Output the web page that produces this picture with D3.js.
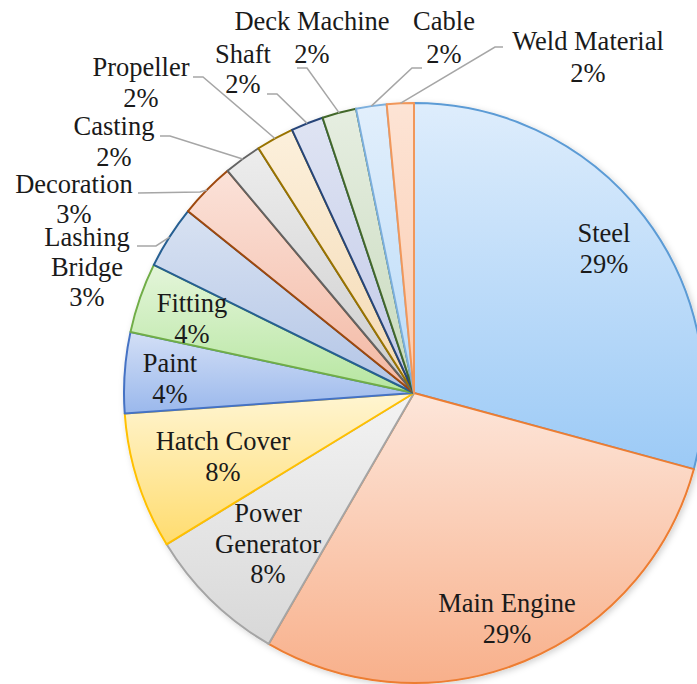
<!DOCTYPE html>
<meta charset="utf-8">
<style>
body { margin: 0; background: #fff; }
.label { font-family: "Liberation Serif", "Times New Roman", serif; font-size: 26.5px; fill: #1a1a1a; }
.leader { fill: none; stroke: #a6a6a6; stroke-width: 1.5; }
</style>
<svg width="697" height="684"></svg>
<script src="https://d3js.org/d3.v7.min.js"></script>
<script>

// slice names, shares and printed percentages
var categories = ["Steel", "Main Engine", "Power Generator", "Hatch Cover", "Paint", "Fitting",
                  "Lashing Bridge", "Decoration", "Casting", "Propeller", "Shaft",
                  "Deck Machine", "Cable", "Weld Material"];
var shares = [29.2, 29.1, 7.9, 7.6, 4.5, 3.9, 3.5, 3.1, 2.1, 2.1, 1.8, 1.9, 1.7, 1.5];
var percentLabels = ["29%", "29%", "8%", "8%", "4%", "4%", "3%", "3%", "2%", "2%", "2%", "2%", "2%", "2%"];

// office-style palette: gradient top, gradient bottom, outline
var fillTop    = ["#deedfc", "#fde6da", "#f3f3f3", "#fff5d2", "#d3dff6", "#e4f5da", "#d8e2f2",
                  "#fbe2d9", "#ededed", "#fcf0dc", "#dfe4f3", "#e6eee1", "#e2effc", "#fde4d5"];
var fillBottom = ["#9ccaf6", "#f8b08b", "#d8d8d8", "#ffdc6e", "#9ab8ec", "#b6e6a0", "#b3c5e6",
                  "#f3b8a3", "#cdcdcd", "#f4d9b2", "#c1c9e8", "#c8dabd", "#badbf8", "#fbcbb0"];
var strokes    = ["#5b9bd5", "#ed7d31", "#a5a5a5", "#ffc000", "#4472c4", "#70ad47", "#255e91",
                  "#9e480e", "#636363", "#997300", "#264478", "#43682b", "#7cafdd", "#f1975a"];

var svg = d3.select("svg");
var cx = 414, cy = 393, radius = 290;

var data = categories.map(function(c, i) {
  return { name: c, share: shares[i], pct: percentLabels[i], i: i };
});

var pie = d3.pie().sort(null).value(function(d) { return d.share; });
var arc = d3.arc().innerRadius(0).outerRadius(radius);
var edge = d3.arc().innerRadius(radius).outerRadius(radius);

var defs = svg.append("defs");
defs.append("filter")
    .attr("id", "shadow")
    .attr("x", "-10%").attr("y", "-10%").attr("width", "120%").attr("height", "120%")
  .append("feDropShadow")
    .attr("dx", 2).attr("dy", 2).attr("stdDeviation", 3)
    .attr("flood-color", "#000").attr("flood-opacity", 0.18);

var grads = defs.selectAll("linearGradient")
  .data(data)
  .enter().append("linearGradient")
    .attr("id", function(d) { return "g" + d.i; })
    .attr("x1", 0).attr("y1", 0).attr("x2", 0).attr("y2", 1);
grads.append("stop").attr("offset", "0%").attr("stop-color", function(d) { return fillTop[d.i]; });
grads.append("stop").attr("offset", "100%").attr("stop-color", function(d) { return fillBottom[d.i]; });

var arcs = pie(data);

var g = svg.append("g")
    .attr("transform", "translate(" + cx + "," + cy + ")");

g.append("g")
    .attr("filter", "url(#shadow)")
  .selectAll("path")
  .data(arcs)
  .enter().append("path")
    .attr("d", arc)
    .attr("fill", function(d) { return "url(#g" + d.data.i + ")"; })
    .attr("stroke", function(d) { return strokes[d.data.i]; })
    .attr("stroke-width", 2)
    .attr("stroke-linejoin", "round");

// label placement: text centre x, first baseline y, lines; leader elbow/end for outside labels
var layout = {
  "Steel":           { x: 604, y: 242, lines: ["Steel"] },
  "Main Engine":     { x: 507, y: 612, lines: ["Main Engine"] },
  "Power Generator": { x: 268, y: 522, lines: ["Power", "Generator"], gap: 30.5 },
  "Hatch Cover":     { x: 223, y: 450, lines: ["Hatch Cover"] },
  "Paint":           { x: 170, y: 372, lines: ["Paint"] },
  "Fitting":         { x: 192, y: 312, lines: ["Fitting"] },
  "Lashing Bridge":  { x: 87,  y: 246, lines: ["Lashing", "Bridge"], gap: 30, leader: [[156, 246], [137, 246]] },
  "Decoration":      { x: 74,  y: 193, lines: ["Decoration"], gap: 30, leader: [[200, 192], [138, 193]] },
  "Casting":         { x: 114, y: 135, lines: ["Casting"], gap: 31, leader: [[170, 136], [160, 136]] },
  "Propeller":       { x: 141, y: 76,  lines: ["Propeller"], leader: [[203, 77], [193, 77]] },
  "Shaft":           { x: 243, y: 63,  lines: ["Shaft"], gap: 30, leader: [[277, 94], [267, 94]] },
  "Deck Machine":    { x: 312, y: 30,  lines: ["Deck Machine"], gap: 33, leader: [[307, 68], [297, 68]] },
  "Cable":           { x: 444, y: 30,  lines: ["Cable"], gap: 33, leader: [[412, 68], [422, 68]] },
  "Weld Material":   { x: 588, y: 50,  lines: ["Weld Material"], gap: 32, leader: [[495, 47], [503, 47]] }
};

var line = d3.line();

arcs.forEach(function(a) {
  var L = layout[a.data.name];
  if (L.leader) {
    var p = edge.centroid(a);
    var pts = [[p[0] + cx, p[1] + cy]].concat(L.leader);
    svg.append("path")
        .attr("class", "leader")
        .attr("d", line(pts));
  }
});

arcs.forEach(function(a) {
  var L = layout[a.data.name];
  var gap = L.gap || 31;
  var t = svg.append("text")
      .attr("class", "label")
      .attr("text-anchor", "middle");
  L.lines.concat([a.data.pct]).forEach(function(s, k) {
    t.append("tspan")
        .attr("x", L.x)
        .attr("y", L.y + k * gap)
        .text(s);
  });
});

</script>
